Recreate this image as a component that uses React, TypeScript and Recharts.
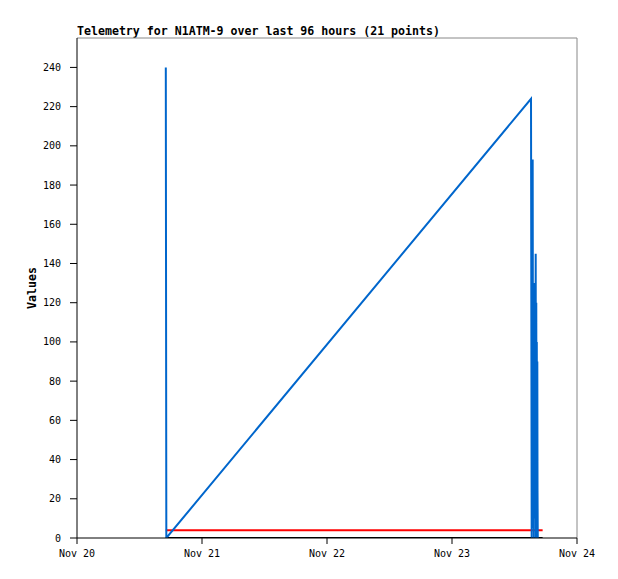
import { LineChart, Line, XAxis, YAxis, ReferenceLine } from "recharts";

// hours since Nov 20 00:00
const tickHours = [0, 24, 48, 72, 96];
const tickLabels = ["Nov 20", "Nov 21", "Nov 22", "Nov 23", "Nov 24"];
const yTicks = [0, 20, 40, 60, 80, 100, 120, 140, 160, 180, 200, 220, 240];

const pointHours = [
  17.05, 17.15, 87.17, 87.3, 87.49, 87.58, 87.66, 87.72, 87.8, 87.86, 87.93,
  88.0, 88.07, 88.13, 88.18, 88.23, 88.28, 88.33, 88.38, 88.42, 88.47,
];
const pointValues = [
  240, 0, 224, 0, 193, 5, 120, 0, 130, 10, 110, 24, 145, 0, 120, 24, 100, 0, 90,
  24, 0,
];

const baselineHours = [17.05, 89.4];
const redLevel = [4, 4];
const blackLevel = [0, 0];

const FONT = "'DejaVu Sans Mono', monospace";

export default function App() {
  const telemetry = pointHours.map((t, i) => ({ t, v: pointValues[i] }));
  const red = baselineHours.map((t, i) => ({ t, v: redLevel[i] }));
  const black = baselineHours.map((t, i) => ({ t, v: blackLevel[i] }));

  return (
    <div style={{ position: "absolute", left: 0, top: 0, background: "#fff" }}>
      <div
        style={{
          position: "absolute",
          left: 77,
          top: 24,
          fontFamily: FONT,
          fontWeight: 700,
          fontSize: 11.6,
          whiteSpace: "nowrap",
        }}
      >
        Telemetry for N1ATM-9 over last 96 hours (21 points)
      </div>
      <LineChart
        width={618}
        height={579}
        margin={{ top: 38, right: 41, bottom: 11, left: 17 }}
      >
        <XAxis
          xAxisId="bottom"
          type="number"
          dataKey="t"
          domain={[0, 96]}
          ticks={tickHours}
          tickFormatter={(h: number) => tickLabels[tickHours.indexOf(h)]}
          height={30}
          allowDataOverflow
          tickSize={6}
          tickMargin={6}
          axisLine={{ stroke: "#000" }}
          tickLine={{ stroke: "#000" }}
          tick={{ fill: "#000", fontSize: 10, fontFamily: FONT }}
        />
        <YAxis
          yAxisId="left"
          type="number"
          domain={[0, 255]}
          ticks={yTicks}
          width={60}
          allowDataOverflow
          tickSize={7}
          tickMargin={9}
          axisLine={{ stroke: "#000" }}
          tickLine={{ stroke: "#000" }}
          tick={{ fill: "#000", fontSize: 10, fontFamily: FONT }}
          label={{
            value: "Values",
            angle: -90,
            position: "insideLeft",
            offset: 15,
            style: {
              fontFamily: FONT,
              fontWeight: 700,
              fontSize: 11.6,
              fill: "#000",
              textAnchor: "middle",
            },
          }}
        />
        <ReferenceLine
          xAxisId="bottom"
          yAxisId="left"
          y={255}
          stroke="#888"
          strokeWidth={1}
        />
        <ReferenceLine
          xAxisId="bottom"
          yAxisId="left"
          x={96}
          stroke="#888"
          strokeWidth={1}
        />
        <Line
          xAxisId="bottom"
          yAxisId="left"
          data={black}
          dataKey="v"
          stroke="#000"
          strokeWidth={2}
          dot={false}
          isAnimationActive={false}
        />
        <Line
          xAxisId="bottom"
          yAxisId="left"
          data={red}
          dataKey="v"
          stroke="#ff0000"
          strokeWidth={2}
          dot={false}
          isAnimationActive={false}
        />
        <Line
          xAxisId="bottom"
          yAxisId="left"
          data={telemetry}
          dataKey="v"
          type="linear"
          stroke="#0066cc"
          strokeWidth={2}
          dot={false}
          isAnimationActive={false}
        />
      </LineChart>
    </div>
  );
}
